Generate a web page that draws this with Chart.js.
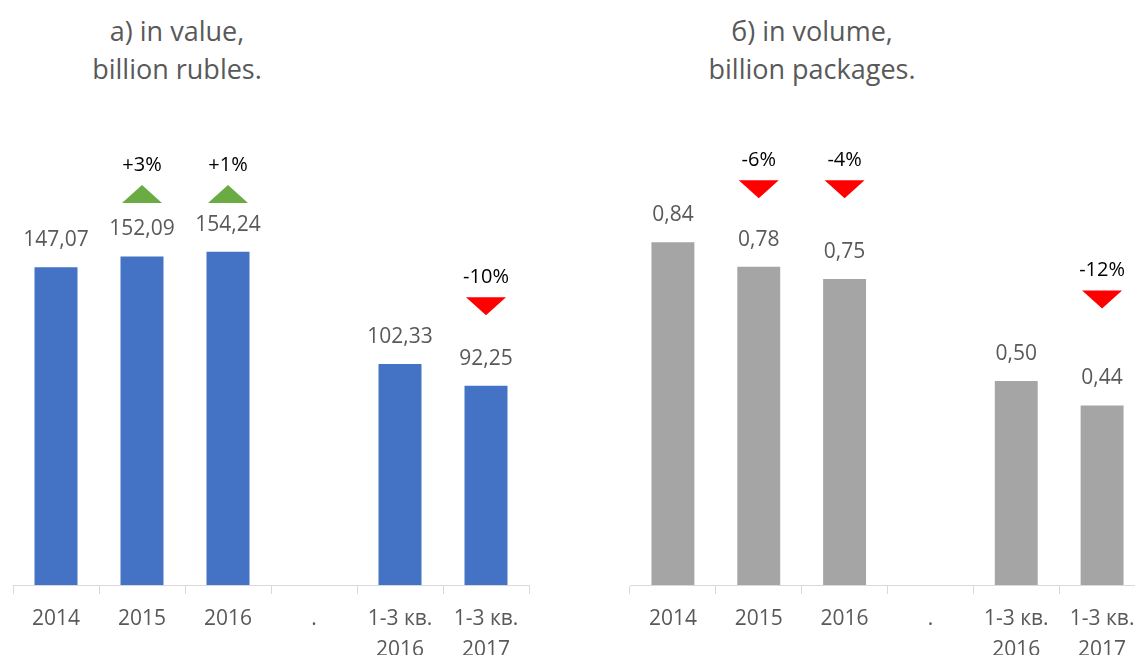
<!DOCTYPE html>
<html lang="en">
<head>
<meta charset="UTF-8" />
<title>Market in value and volume</title>
<style>
  * { margin: 0; padding: 0; }
  html, body { overflow: hidden; }
  body { width: 1135px; height: 655px; position: relative; background: #fff; font-family: "Open Sans", sans-serif; }
  .title { position: absolute; top: 12px; width: 300px; text-align: center; color: #595959; font-size: 27px; line-height: 38px; }
  .box { position: absolute; top: 0; height: 655px; }
</style>
</head>
<body>
<div class="title" style="left: 27px">a) in value,<br>billion rubles.</div>
<div class="title" style="left: 662px">б) in volume,<br>billion packages.</div>
<div class="box" style="left: 0; width: 545px"><canvas id="rubChart"></canvas></div>
<div class="box" style="left: 617px; width: 540px"><canvas id="packChart"></canvas></div>

<script src="https://cdn.jsdelivr.net/npm/chart.js"></script>
<script>
  // data
  const categories = ["2014", "2015", "2016", ".", ["1-3 кв.", "2016"], ["1-3 кв.", "2017"]];
  const valueRub = [147.07, 152.09, 154.24, null, 102.33, 92.25];
  const valuePack = [0.84, 0.78, 0.75, null, 0.50, 0.44];
  const changeRub = [null, "+3%", "+1%", null, null, "-10%"];
  const changePack = [null, "-6%", "-4%", null, null, "-12%"];
  // height (in axis units) where the change arrows sit
  const arrowLevelRub = [null, 181, 181, null, null, 129];
  const arrowLevelPack = [null, 0.97, 0.97, null, null, 0.70];

  const FONT = "'Open Sans', sans-serif";

  // value labels + change arrows
  const annotations = {
    id: "annotations",
    afterDatasetsDraw(chart, args, opts) {
      const { ctx } = chart;
      const y = chart.scales.y;
      const meta = chart.getDatasetMeta(0);
      const values = chart.data.datasets[0].data;
      ctx.save();
      ctx.textAlign = "center";
      ctx.textBaseline = "middle";
      meta.data.forEach((bar, i) => {
        const v = values[i];
        if (v == null) return;
        ctx.fillStyle = "#595959";
        ctx.font = "21px " + FONT;
        ctx.fillText(v.toFixed(2).replace(".", ","), bar.x, bar.y - 27);

        const change = opts.changes[i];
        if (!change) return;
        const cy = y.getPixelForValue(opts.levels[i]);
        const up = change[0] === "+";
        ctx.fillStyle = up ? "#6AAB43" : "#FF0000";
        ctx.beginPath();
        if (up) {
          ctx.moveTo(bar.x - 20, cy + 9);
          ctx.lineTo(bar.x + 20, cy + 9);
          ctx.lineTo(bar.x, cy - 9);
        } else {
          ctx.moveTo(bar.x - 20, cy - 9);
          ctx.lineTo(bar.x + 20, cy - 9);
          ctx.lineTo(bar.x, cy + 9);
        }
        ctx.closePath();
        ctx.fill();
        ctx.fillStyle = "#000";
        ctx.font = "20px " + FONT;
        ctx.fillText(change, bar.x, cy - 9 - 20);
      });
      ctx.restore();
    }
  };

  function makeChart(id, values, color, yMax, padTop, padRight, changes, levels) {
    return new Chart(document.getElementById(id), {
      type: "bar",
      data: {
        labels: categories,
        datasets: [{
          data: values,
          backgroundColor: color,
          barPercentage: 1,
          categoryPercentage: 0.5
        }]
      },
      options: {
        responsive: true,
        maintainAspectRatio: false,
        animation: false,
        layout: { padding: { top: padTop, left: 13, right: padRight, bottom: 0 } },
        scales: {
          x: {
            afterFit(scale) { scale.height = 70; },
            grid: {
              drawOnChartArea: false,
              tickLength: 9,
              color: "#D9D9D9"
            },
            border: { color: "#D9D9D9" },
            ticks: {
              color: "#595959",
              padding: 10,
              font: { family: FONT, size: 21, lineHeight: 1.45 }
            }
          },
          y: { display: false, min: 0, max: yMax }
        },
        plugins: {
          legend: { display: false },
          tooltip: { enabled: false },
          annotations: { changes, levels }
        }
      },
      plugins: [annotations]
    });
  }

  makeChart("rubChart", valueRub, "#4472C4", 200, 153, 16, changeRub, arrowLevelRub);
  makeChart("packChart", valuePack, "#A5A5A5", 1, 177, 12, changePack, arrowLevelPack);
</script>
</body>
</html>
